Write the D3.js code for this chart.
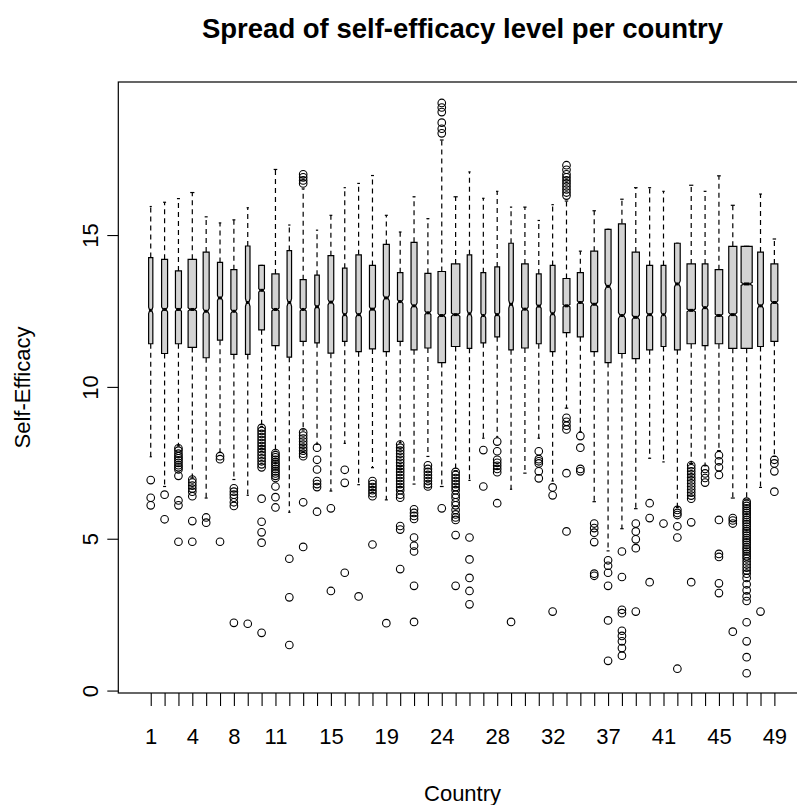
<!DOCTYPE html>
<html>
<head>
<meta charset="utf-8">
<script src="https://cdn.jsdelivr.net/npm/d3@7"></script>
<style>
  body { margin: 0; background: #fff; }
  text { font-family: "Liberation Sans", Arial, sans-serif; fill: #000; }
</style>
</head>
<body>
<svg id="chart" width="797" height="805"></svg>
<script>
// country codes, one box each
var countries = [1, 2, 3, 4, 5, 6, 8, 9, 10, 11, 12, 13, 14, 15, 16, 17, 18, 19, 20, 21, 23, 24, 25,
  26, 27, 28, 29, 30, 31, 32, 33, 34, 36, 37, 38, 39, 40, 41, 42, 43, 44, 45, 46, 47, 48, 49];
var lowWhisker = [7.7, 6.72, 8.06, 7.0, 6.34, 7.85, 6.95, 6.43, 8.7, 7.88, 5.87, 8.58, 8.11, 6.57, 8.14, 6.78,
  7.34, 6.28, 8.17, 6.8, 7.71, 6.72, 7.24, 6.92, 8.31, 8.35, 6.63, 7.16, 8.31, 6.9, 9.3, 8.52, 6.22, 4.6,
  5.33, 5.99, 7.65, 7.53, 6.03, 7.48, 7.4, 7.9, 6.34, 6.28, 6.69, 7.71];
var q1 = [11.42, 11.1, 11.42, 11.3, 10.96, 11.54, 11.07, 11.07, 11.88, 11.36, 10.98, 11.5, 11.45, 11.11, 11.5,
  11.16, 11.25, 11.16, 11.5, 11.22, 11.28, 10.8, 11.33, 11.27, 11.45, 11.65, 11.22, 11.28, 11.42, 11.16,
  11.79, 11.65, 11.16, 10.8, 11.1, 10.93, 11.22, 11.33, 11.22, 11.42, 11.36, 11.42, 11.27, 11.27, 11.33, 11.5];
var median = [12.52, 12.55, 12.55, 12.55, 12.49, 12.93, 12.49, 12.78, 13.18, 12.55, 12.78, 12.55, 12.64, 12.79,
  12.38, 12.38, 12.56, 12.93, 12.81, 12.67, 12.44, 12.35, 12.38, 12.41, 12.35, 12.38, 12.72, 12.56, 12.66,
  12.41, 12.67, 12.78, 12.72, 13.31, 12.35, 12.29, 12.38, 12.38, 13.39, 12.52, 12.61, 12.35, 12.38, 13.39,
  12.67, 12.78];
var q3 = [14.26, 14.2, 13.82, 14.2, 14.44, 14.1, 13.86, 14.64, 14.0, 13.72, 14.49, 13.53, 13.68, 14.32, 13.91,
  14.35, 14.0, 14.69, 13.76, 14.76, 13.74, 13.8, 14.05, 14.35, 13.76, 13.95, 14.73, 14.05, 13.72, 14.0,
  13.57, 13.76, 14.47, 15.19, 15.37, 14.44, 14.0, 14.0, 14.73, 14.05, 14.05, 13.86, 14.63, 14.63, 14.44, 14.05];
var highWhisker = [15.94, 16.08, 16.2, 16.4, 15.6, 15.4, 15.5, 15.9, 14.0, 17.16, 15.33, 16.52, 15.16, 15.65,
  16.56, 16.7, 16.96, 15.65, 15.1, 16.26, 15.54, 18.13, 16.26, 17.08, 16.21, 16.44, 15.92, 15.92, 15.48,
  16.0, 16.12, 14.47, 15.8, 15.19, 16.18, 16.56, 16.56, 16.44, 14.73, 16.64, 16.44, 16.95, 15.98, 14.63,
  16.35, 14.87];
// respondents per country (sets box width and notch size)
var groupSize = [1720, 3508, 3508, 6872, 3508, 2532, 3508, 1972, 3164, 5048, 1972, 3508, 1972, 3164, 1972,
  2840, 3508, 3508, 2840, 3508, 3508, 5480, 6872, 1972, 2244, 2244, 1972, 4244, 2244, 2244, 4640, 3508, 4640,
  3508, 4640, 5048, 3508, 2244, 3164, 6872, 3164, 5480, 6392, 12000, 3164, 4640];
var outliers = [
  [6.93, 6.35, 6.1],
  [6.45, 5.64],
  [7.98, 7.9, 7.8, 7.72, 7.65, 7.58, 7.5, 7.42, 7.35, 7.28, 7.07, 6.26, 6.1, 4.9],
  [6.95, 6.85, 6.75, 6.65, 6.55, 6.4, 5.58, 4.9],
  [5.7, 5.53],
  [7.72, 7.62, 4.9],
  [6.66, 6.55, 6.45, 6.35, 6.2, 6.08, 2.23],
  [2.2],
  [8.65, 8.55, 8.45, 8.35, 8.25, 8.15, 8.05, 7.95, 7.85, 7.75, 7.65, 7.55, 7.45, 7.35, 6.32, 5.56, 5.21, 4.87, 1.9],
  [7.82, 7.75, 7.68, 7.6, 7.52, 7.45, 7.38, 7.3, 7.22, 7.15, 7.07, 7.0, 6.72, 6.37, 6.03],
  [4.34, 3.07, 1.5],
  [17.0, 16.9, 16.8, 16.7, 8.5, 8.4, 8.3, 8.2, 8.1, 8.0, 7.9, 7.8, 7.72, 6.2, 4.73],
  [8.0, 7.6, 7.28, 6.9, 6.8, 6.7, 5.89],
  [6.0, 3.28],
  [7.27, 6.84, 3.88],
  [3.1],
  [6.9, 6.8, 6.7, 6.6, 6.5, 6.4, 4.81],
  [2.22],
  [8.1, 8.0, 7.9, 7.8, 7.7, 7.6, 7.5, 7.4, 7.3, 7.2, 7.1, 7.0, 6.9, 6.8, 6.7, 6.6, 6.45, 6.35, 5.42, 5.3, 4.0],
  [5.97, 5.85, 5.75, 5.65, 5.04, 4.77, 4.58, 3.45, 2.26],
  [7.42, 7.3, 7.2, 7.1, 7.0, 6.9, 6.8, 6.72],
  [19.35, 19.2, 19.05, 18.7, 18.5, 18.35, 6.0],
  [7.2, 7.1, 7.0, 6.9, 6.8, 6.7, 6.6, 6.45, 6.35, 6.2, 6.1, 5.95, 5.8, 5.7, 5.62, 5.12, 3.45],
  [5.04, 4.32, 3.71, 3.28, 2.84],
  [7.92, 6.72],
  [8.2, 7.88, 7.6, 7.5, 7.4, 7.3, 7.19, 6.17],
  [2.26],
  [],
  [7.88, 7.62, 7.55, 7.48, 7.22, 6.99],
  [6.69, 6.43, 2.6],
  [17.3, 17.15, 17.0, 16.9, 16.8, 16.7, 16.6, 16.5, 16.4, 16.3, 8.98, 8.85, 8.72, 8.6, 7.16, 5.24],
  [8.38, 8.0, 7.3, 7.22],
  [5.5, 5.35, 5.2, 4.89, 3.85, 3.78],
  [4.29, 4.11, 3.88, 3.45, 2.31, 0.98],
  [4.58, 3.74, 2.66, 2.55, 1.97, 1.8, 1.62, 1.4, 1.15],
  [5.5, 5.24, 4.98, 4.69, 2.6],
  [6.17, 5.68, 3.57],
  [5.5],
  [5.95, 5.85, 5.78, 5.41, 5.04, 0.72],
  [7.42, 7.32, 7.22, 7.12, 7.02, 6.92, 6.82, 6.72, 6.62, 6.52, 6.42, 6.32, 5.54, 3.57],
  [7.3, 7.15, 7.0, 6.85],
  [7.75, 7.55, 7.35, 7.1, 5.62, 4.5, 4.4, 3.53, 3.21],
  [5.68, 5.6, 5.5, 1.94],
  [6.22, 6.15, 6.08, 6.0, 5.92, 5.85, 5.78, 5.7, 5.62, 5.55, 5.48, 5.4, 5.32, 5.25, 5.18, 5.1, 5.02, 4.95,
   4.88, 4.8, 4.72, 4.65, 4.58, 4.5, 4.42, 4.35, 4.25, 4.15, 4.05, 3.95, 3.85, 3.71, 3.5, 3.3, 3.1, 2.95,
   2.25, 1.62, 1.1, 0.57],
  [2.6],
  [7.6, 7.48, 7.22, 6.55]
];
var shownLabels = [1, 4, 8, 11, 15, 19, 24, 28, 32, 37, 41, 45, 49];
var yTicks = [0, 5, 10, 15];

var svg = d3.select("#chart");
var plotLeft = 118.3, plotRight = 806.8, plotTop = 82, plotBottom = 693;

var x = d3.scaleLinear().domain([-1.34, 48.34]).range([plotLeft, plotRight]);
var y = d3.scaleLinear().domain([-0.08, 20.04]).range([plotBottom, plotTop]);

var maxN = d3.max(groupSize);
var maxW = 0.8 * (x(2) - x(1));

var boxes = countries.map(function (c, i) {
  return {
    country: c, pos: i + 1, lw: lowWhisker[i], q1: q1[i], med: median[i], q3: q3[i],
    uw: highWhisker[i], n: groupSize[i], out: outliers[i]
  };
});

var plot = svg.append("g").attr("class", "boxes");

var g = plot.selectAll("g.box").data(boxes).enter().append("g").attr("class", "box");

g.each(function (d) {
  var el = d3.select(this);
  var cx = x(d.pos), w = maxW * Math.sqrt(d.n / maxN);
  // whiskers (dashed) and staples
  [[d.q3, d.uw], [d.q1, d.lw]].forEach(function (p) {
    el.append("line")
      .attr("x1", cx).attr("x2", cx)
      .attr("y1", y(p[0])).attr("y2", y(p[1]))
      .attr("stroke", "#000").attr("stroke-width", 1.2)
      .attr("stroke-dasharray", "5,4");
    el.append("line")
      .attr("x1", cx - w / 4).attr("x2", cx + w / 4)
      .attr("y1", y(p[1])).attr("y2", y(p[1]))
      .attr("stroke", "#000").attr("stroke-width", 1.2);
  });

  // notched box
  var nt = 1.58 * (d.q3 - d.q1) / Math.sqrt(d.n);
  var pts = [
    [cx - w / 2, y(d.q1)], [cx - w / 2, y(d.med - nt)], [cx - w / 4, y(d.med)], [cx - w / 2, y(d.med + nt)],
    [cx - w / 2, y(d.q3)], [cx + w / 2, y(d.q3)], [cx + w / 2, y(d.med + nt)], [cx + w / 4, y(d.med)],
    [cx + w / 2, y(d.med - nt)], [cx + w / 2, y(d.q1)]
  ];
  el.append("path")
    .attr("d", d3.line()(pts) + "Z")
    .attr("fill", "#d3d3d3")
    .attr("stroke", "#000")
    .attr("stroke-width", 1.2);

  el.append("line")
    .attr("x1", cx - w / 4).attr("x2", cx + w / 4)
    .attr("y1", y(d.med)).attr("y2", y(d.med))
    .attr("stroke", "#000").attr("stroke-width", 3);

  el.selectAll("circle").data(d.out).enter().append("circle")
    .attr("cx", cx)
    .attr("cy", function (v) { return y(v); })
    .attr("r", 3.8)
    .attr("fill", "none")
    .attr("stroke", "#000")
    .attr("stroke-width", 1.1);
});

// frame
svg.append("rect")
  .attr("x", plotLeft).attr("y", plotTop)
  .attr("width", plotRight - plotLeft).attr("height", plotBottom - plotTop)
  .attr("fill", "none").attr("stroke", "#000").attr("stroke-width", 1.2);

// y axis
var yAxis = svg.append("g")
  .attr("transform", "translate(" + plotLeft + ",0)")
  .call(d3.axisLeft(y).tickValues(yTicks).tickSize(11).tickSizeOuter(0));
yAxis.select(".domain").remove();
yAxis.selectAll("line").attr("stroke", "#000").attr("stroke-width", 1.1);
yAxis.selectAll("text")
  .attr("transform", "rotate(-90)")
  .attr("x", 0).attr("y", -20).attr("dy", 0)
  .attr("text-anchor", "middle")
  .style("font-size", "22px")
  .style("font-family", "'Liberation Sans', Arial, sans-serif")
  .attr("fill", "#000");

// x axis
var xAxis = svg.append("g")
  .attr("transform", "translate(0," + plotBottom + ")")
  .call(d3.axisBottom(x)
    .tickValues(d3.range(1, countries.length + 1))
    .tickFormat(function (p) {
      var c = countries[p - 1];
      return shownLabels.indexOf(c) >= 0 ? c : "";
    })
    .tickSize(13).tickSizeOuter(0));
xAxis.select(".domain").remove();
xAxis.selectAll("line").attr("stroke", "#000").attr("stroke-width", 1.1);
xAxis.selectAll("text")
  .attr("y", 51).attr("dy", 0)
  .style("font-size", "22px")
  .style("font-family", "'Liberation Sans', Arial, sans-serif")
  .attr("fill", "#000");

// titles
svg.append("text")
  .attr("x", (plotLeft + plotRight) / 2).attr("y", 38)
  .attr("text-anchor", "middle")
  .style("font-size", "27.5px").style("font-weight", "bold")
  .text("Spread of self-efficacy level per country");

svg.append("text")
  .attr("x", (plotLeft + plotRight) / 2).attr("y", 801)
  .attr("text-anchor", "middle")
  .style("font-size", "22px")
  .text("Country");

svg.append("text")
  .attr("transform", "translate(30," + (plotTop + plotBottom) / 2 + ") rotate(-90)")
  .attr("text-anchor", "middle")
  .style("font-size", "22px")
  .text("Self-Efficacy");
</script>
</body>
</html>
